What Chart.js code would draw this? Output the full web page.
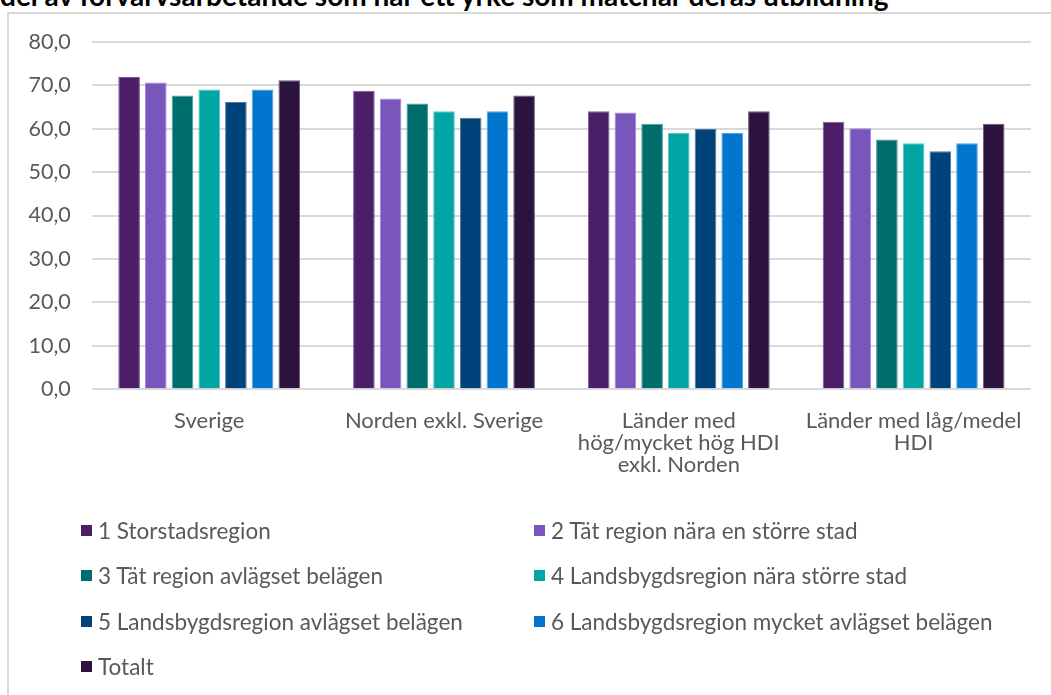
<!DOCTYPE html>
<html lang="sv">
<head>
<meta charset="utf-8">
<script src="https://cdn.jsdelivr.net/npm/chart.js@4"></script>
<style>
  html, body { margin: 0; padding: 0; background: #fff; overflow: hidden; width: 1051px; height: 695px; }
  #rubrik {
    position: absolute; left: 0; top: -17.5px; white-space: nowrap;
    font: bold 28px Lato, sans-serif; line-height: 24px; color: #000;
  }
  #ram {
    position: absolute; left: 7px; top: 12px; width: 1100px; height: 700px;
    border-top: 2px solid #d9d9d9; border-left: 2px solid #d9d9d9;
  }
  #graf { position: absolute; left: 0; top: 0; }
  #legend {
    position: absolute; left: 72px; top: 494px;
    display: grid; grid-template-columns: 453px 480px; row-gap: 0;
    font: 22.5px Lato, sans-serif; color: #595959;
  }
  .post { height: 45.3px; display: flex; align-items: center; white-space: nowrap; }
  .ruta { width: 11px; height: 11px; margin-right: 6px; flex: none; }
</style>
</head>
<body>
<div id="rubrik">del av förvärvsarbetande som har ett yrke som matchar deras utbildning</div>
<div id="ram">
  <canvas id="graf" width="1042" height="500"></canvas>
  <div id="legend"></div>
</div>
<script>
const kategorier = [
  ['Sverige'],
  ['Norden exkl. Sverige'],
  ['Länder med', 'hög/mycket hög HDI', 'exkl. Norden'],
  ['Länder med låg/medel', 'HDI']
];
const serieNamn = [
  '1 Storstadsregion',
  '2 Tät region nära en större stad',
  '3 Tät region avlägset belägen',
  '4 Landsbygdsregion nära större stad',
  '5 Landsbygdsregion avlägset belägen',
  '6 Landsbygdsregion mycket avlägset belägen',
  'Totalt'
];
const storstad = [71.9, 68.7, 64.0, 61.6];
const tatNara = [70.6, 66.9, 63.7, 60.1];
const tatAvlagset = [67.6, 65.8, 61.1, 57.5];
const landsbygdNara = [69.0, 64.0, 59.0, 56.6];
const landsbygdAvlagset = [66.1, 62.5, 59.9, 54.8];
const landsbygdMycket = [69.0, 64.0, 59.0, 56.6];
const totalt = [71.1, 67.6, 64.0, 61.1];
const yTicks = [0, 10, 20, 30, 40, 50, 60, 70, 80];

const serieVarden = [storstad, tatNara, tatAvlagset, landsbygdNara, landsbygdAvlagset, landsbygdMycket, totalt];
const farger = ['#4b1f68', '#7956bb', '#006d6d', '#00a5a4', '#00427a', '#0076cf', '#2c133e'];
const kanter = ['#7d5a96', '#a58ad6', '#4d9999', '#5cc6c4', '#52769b', '#56a5e3', '#6a587a'];

const gra = '#595959';

const chart = new Chart(document.getElementById('graf'), {
  type: 'bar',
  data: {
    labels: kategorier,
    datasets: serieNamn.map((namn, i) => ({
      label: namn,
      data: serieVarden[i],
      backgroundColor: farger[i],
      borderColor: kanter[i],
      borderWidth: 1,
      categoryPercentage: 0.796,
      barPercentage: 0.81
    }))
  },
  options: {
    responsive: false,
    animation: false,
    layout: { padding: { left: 0, right: 20, top: 27.7, bottom: 0 } },
    plugins: {
      legend: { display: false },
      tooltip: { enabled: false }
    },
    scales: {
      x: {
        grid: { display: false },
        border: { display: false },
        ticks: {
          color: gra,
          font: { family: 'Lato', size: 22, lineHeight: 1.0 },
          padding: 13,
          maxRotation: 0,
          autoSkip: false
        },
        afterFit: s => { s.height = 500 - 375.3; }
      },
      y: {
        min: 0,
        max: 80,
        afterBuildTicks: s => { s.ticks = yTicks.map(v => ({ value: v })); },
        grid: { color: '#d9d9d9', lineWidth: 2, drawTicks: false },
        border: { display: false },
        ticks: {
          color: gra,
          font: { family: 'Lato', size: 21.5 },
          padding: 21,
          callback: v => v.toFixed(1).replace('.', ',')
        },
        afterFit: s => {
          s.width = 82.8;
          s.paddingTop = 0;
          s.paddingBottom = 0;
        }
      }
    }
  }
});

const legend = document.getElementById('legend');
chart.data.datasets.forEach(ds => {
  const post = document.createElement('div');
  post.className = 'post';
  const ruta = document.createElement('span');
  ruta.className = 'ruta';
  ruta.style.background = ds.backgroundColor;
  post.appendChild(ruta);
  post.appendChild(document.createTextNode(ds.label));
  legend.appendChild(post);
});
</script>
</body>
</html>
